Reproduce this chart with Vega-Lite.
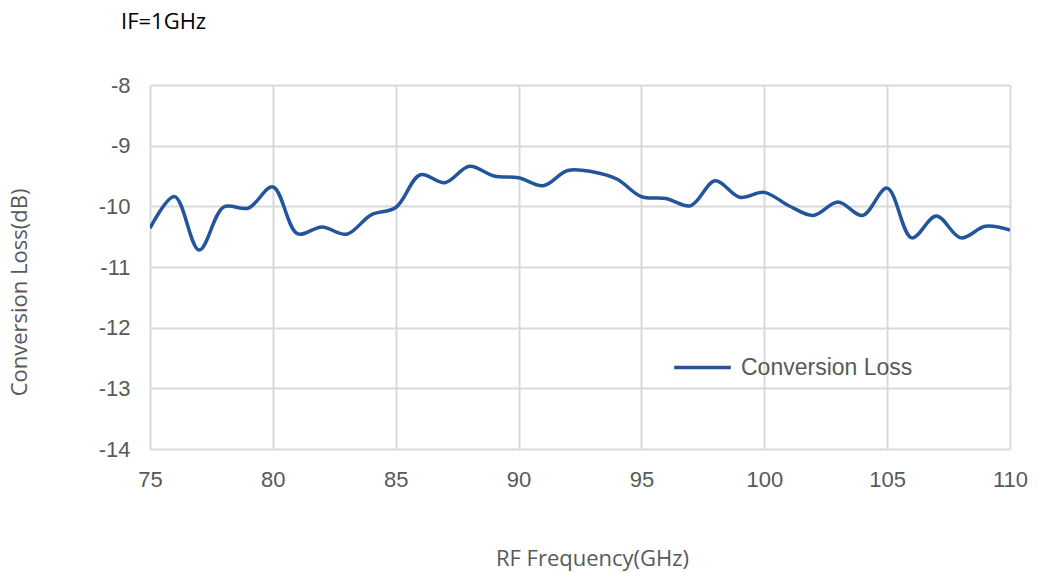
{
  "$schema": "https://vega.github.io/schema/vega-lite/v6.json",
  "width": 860,
  "height": 364,
  "autosize": {"type": "none"},
  "padding": {"left": 150, "top": 85, "right": 27, "bottom": 124},
  "background": "white",
  "title": {
    "text": "IF=1GHz",
    "anchor": "start",
    "frame": "group",
    "dx": -29,
    "offset": 40,
    "font": "Open Sans",
    "fontSize": 22,
    "fontWeight": "normal",
    "color": "#000000"
  },
  "data": {
    "values": [
      {"f": 75, "cl": -10.36, "s": "Conversion Loss"},
      {"f": 76, "cl": -9.84, "s": "Conversion Loss"},
      {"f": 77, "cl": -10.72, "s": "Conversion Loss"},
      {"f": 78, "cl": -10.01, "s": "Conversion Loss"},
      {"f": 79, "cl": -10.03, "s": "Conversion Loss"},
      {"f": 80, "cl": -9.68, "s": "Conversion Loss"},
      {"f": 81, "cl": -10.45, "s": "Conversion Loss"},
      {"f": 82, "cl": -10.34, "s": "Conversion Loss"},
      {"f": 83, "cl": -10.46, "s": "Conversion Loss"},
      {"f": 84, "cl": -10.14, "s": "Conversion Loss"},
      {"f": 85, "cl": -10.02, "s": "Conversion Loss"},
      {"f": 86, "cl": -9.48, "s": "Conversion Loss"},
      {"f": 87, "cl": -9.61, "s": "Conversion Loss"},
      {"f": 88, "cl": -9.34, "s": "Conversion Loss"},
      {"f": 89, "cl": -9.5, "s": "Conversion Loss"},
      {"f": 90, "cl": -9.53, "s": "Conversion Loss"},
      {"f": 91, "cl": -9.66, "s": "Conversion Loss"},
      {"f": 92, "cl": -9.41, "s": "Conversion Loss"},
      {"f": 93, "cl": -9.43, "s": "Conversion Loss"},
      {"f": 94, "cl": -9.55, "s": "Conversion Loss"},
      {"f": 95, "cl": -9.84, "s": "Conversion Loss"},
      {"f": 96, "cl": -9.87, "s": "Conversion Loss"},
      {"f": 97, "cl": -9.99, "s": "Conversion Loss"},
      {"f": 98, "cl": -9.58, "s": "Conversion Loss"},
      {"f": 99, "cl": -9.85, "s": "Conversion Loss"},
      {"f": 100, "cl": -9.77, "s": "Conversion Loss"},
      {"f": 101, "cl": -9.99, "s": "Conversion Loss"},
      {"f": 102, "cl": -10.15, "s": "Conversion Loss"},
      {"f": 103, "cl": -9.93, "s": "Conversion Loss"},
      {"f": 104, "cl": -10.15, "s": "Conversion Loss"},
      {"f": 105, "cl": -9.7, "s": "Conversion Loss"},
      {"f": 106, "cl": -10.52, "s": "Conversion Loss"},
      {"f": 107, "cl": -10.16, "s": "Conversion Loss"},
      {"f": 108, "cl": -10.52, "s": "Conversion Loss"},
      {"f": 109, "cl": -10.33, "s": "Conversion Loss"},
      {"f": 110, "cl": -10.39, "s": "Conversion Loss"}
    ]
  },
  "mark": {"type": "line", "interpolate": "catmull-rom", "strokeWidth": 3.5, "clip": true},
  "encoding": {
    "x": {
      "field": "f",
      "type": "quantitative",
      "scale": {"domain": [75, 110], "nice": false, "zero": false},
      "axis": {
        "values": [75, 80, 85, 90, 95, 100, 105, 110],
        "title": "RF Frequency(GHz)",
        "titleFont": "Open Sans",
        "titleFontSize": 22,
        "titleFontWeight": "normal",
        "titleColor": "#595959",
        "titlePadding": 58,
        "titleX": 442,
        "labelFont": "Liberation Sans",
        "labelFontSize": 22,
        "labelColor": "#595959",
        "labelPadding": 20,
        "labelFlush": false,
        "ticks": false,
        "domain": false,
        "grid": true,
        "gridColor": "#d9d9d9",
        "gridWidth": 2
      }
    },
    "y": {
      "field": "cl",
      "type": "quantitative",
      "scale": {"domain": [-14, -8], "nice": false, "zero": false},
      "axis": {
        "values": [-14, -13, -12, -11, -10, -9, -8],
        "labelExpr": "replace(datum.label, '−', '-')",
        "title": "Conversion Loss(dB)",
        "titleFont": "Open Sans",
        "titleFontSize": 22,
        "titleFontWeight": "normal",
        "titleColor": "#595959",
        "titlePadding": 67,
        "titleY": 207,
        "labelFont": "Liberation Sans",
        "labelFontSize": 22,
        "labelColor": "#595959",
        "labelPadding": 20,
        "labelFlush": false,
        "ticks": false,
        "domain": false,
        "grid": true,
        "gridColor": "#d9d9d9",
        "gridWidth": 2
      }
    },
    "color": {
      "field": "s",
      "type": "nominal",
      "scale": {"range": ["#22559b"]},
      "legend": {
        "title": null,
        "orient": "none",
        "legendX": 522,
        "legendY": 252,
        "symbolType": "stroke",
        "symbolSize": 3200,
        "symbolStrokeWidth": 3.5,
        "labelFont": "Liberation Sans",
        "labelFontSize": 23,
        "labelColor": "#595959",
        "labelOffset": 8,
        "labelLimit": 400
      }
    }
  },
  "config": {"view": {"stroke": null}}
}
